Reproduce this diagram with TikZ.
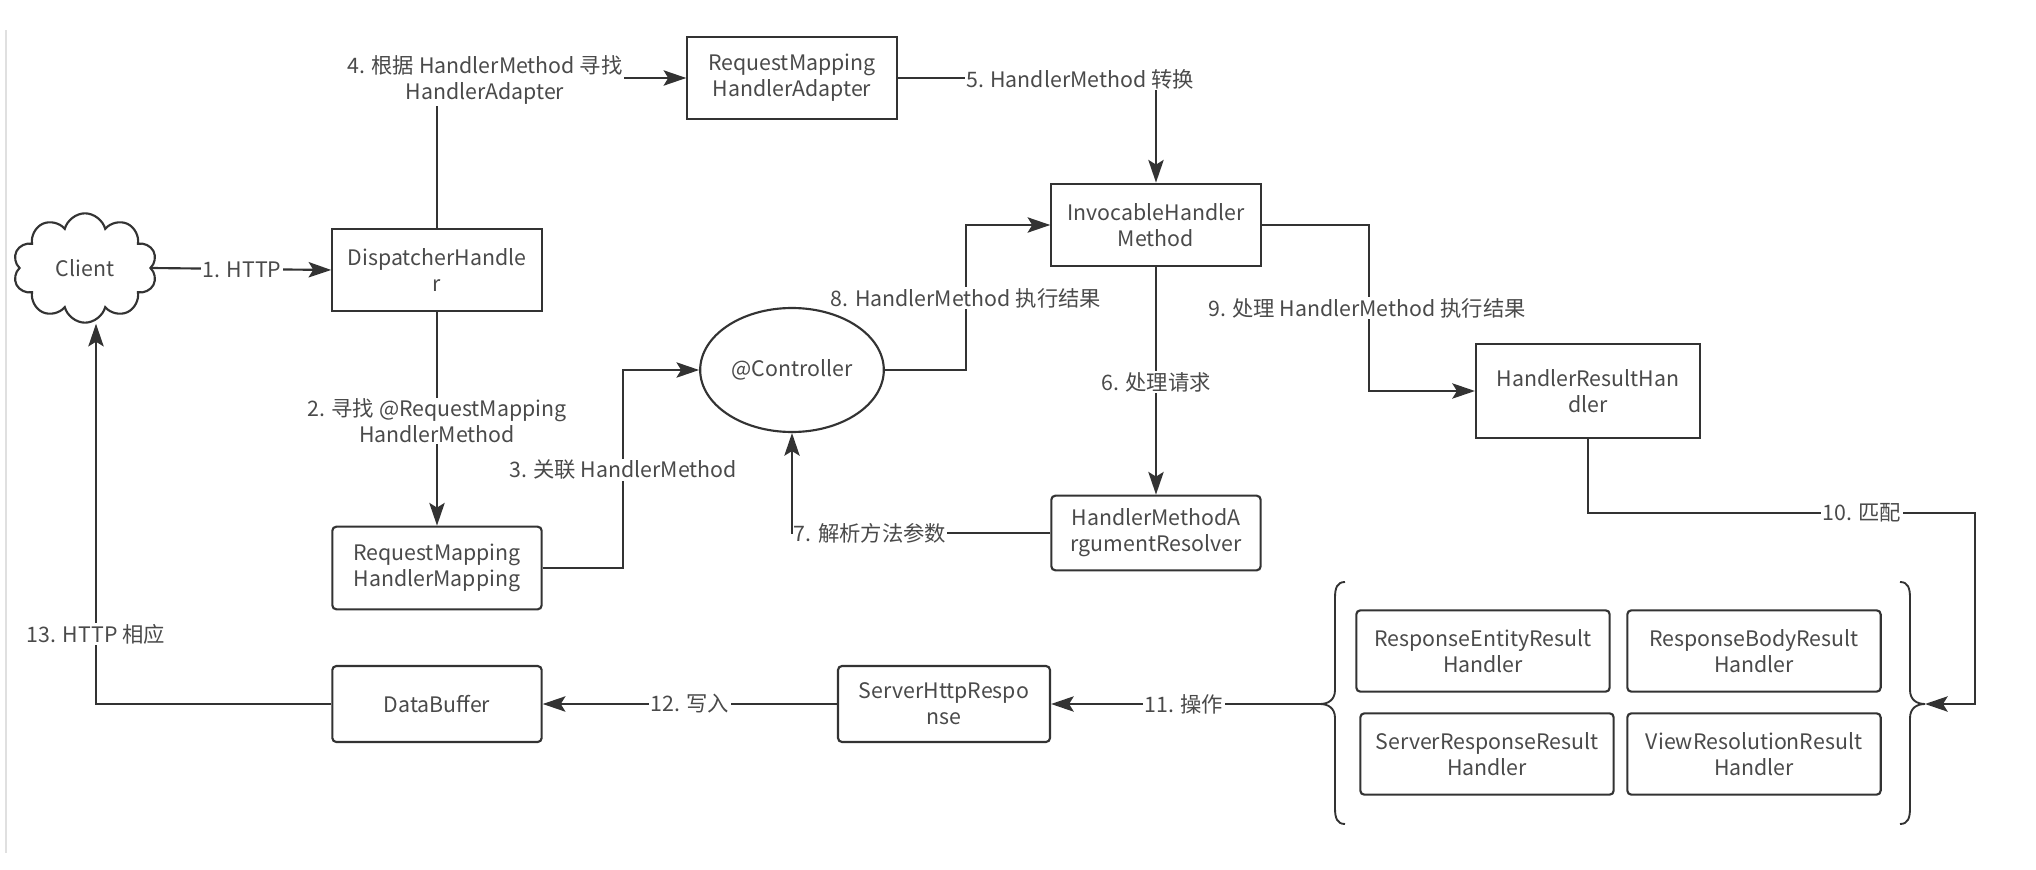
\documentclass[tikz,border=0pt]{standalone}
\usepackage{fontspec}
\setmainfont{Noto Sans CJK SC}
\usepackage{tikz}
\usepackage{xcolor}
\usetikzlibrary{arrows.meta,shapes,positioning}

\definecolor{linec}{HTML}{333333}
\definecolor{txtc}{HTML}{4A4A4A}

\begin{document}
\begin{tikzpicture}[x=0.75pt,y=0.75pt,yscale=-1,xscale=1,
  every node/.style={font=\fontsize{16}{19.5}\selectfont, text=txtc},
  box/.style={draw=linec, line width=1.6pt, fill=white, align=center, inner sep=2pt, minimum width=157pt, minimum height=61pt},
  rbox/.style={box, rounded corners=3pt},
  lbl/.style={fill=white, align=center, inner sep=1pt},
  wire/.style={draw=linec, line width=1.6pt},
  flow/.style={wire, -{Stealth[length=17pt,width=11.5pt,inset=3.5pt]}}]
\useasboundingbox (0,0) rectangle (2036,870);

%Straight Lines (page edge)
\draw [color=black!12, line width=1.2pt] (6,30) -- (6,853);

%Shape: Cloud
\node [cloud, draw=linec, line width=1.6pt, cloud puffs=10, aspect=1.3, minimum width=108pt, minimum height=82pt, inner sep=0pt] (cl) at (85,268) {Client};
%Shape: Rectangles
\node [box] (dh) at (437,270) {DispatcherHandle\\r};
\node [box, minimum height=62pt] (rmha) at (792,78) {RequestMapping\\HandlerAdapter};
\node [box, minimum height=62pt] (ihm) at (1156,225) {InvocableHandler\\Method};
\node [rbox, minimum height=62pt] (rmhm) at (437,568) {RequestMapping\\HandlerMapping};
\node [rbox, minimum height=56pt] (hmar) at (1156,533) {HandlerMethodA\\rgumentResolver};
\node [box, minimum width=168pt, minimum height=70pt] (hrh) at (1588,391) {HandlerResultHan\\dler};
\node [rbox, minimum width=159pt, minimum height=57pt] (shr) at (944,704) {ServerHttpRespo\\nse};
\node [rbox, minimum height=57pt] (db) at (437,704) {DataBuffer};
%Shape: Ellipse
\node [ellipse, draw=linec, line width=1.6pt, minimum width=132pt, minimum height=93pt] (ctrl) at (792,370) {@Controller};

%Shape: Result handlers
\node [rbox, minimum width=190pt] (reh) at (1483,651) {ResponseEntityResult\\Handler};
\node [rbox, minimum width=190pt] (rbh) at (1754,651) {ResponseBodyResult\\Handler};
\node [rbox, minimum width=190pt] (srrh) at (1487,754) {ServerResponseResult\\Handler};
\node [rbox, minimum width=190pt] (vrrh) at (1754,754) {ViewResolutionResult\\Handler};

%Braces
\coordinate (lb) at (1320,704);
\coordinate (rb) at (1925,704);
\draw [wire, line width=1.4pt] (1345,582) .. controls (1337,582) and (1335,588) .. (1335,598) -- (1335,690) .. controls (1335,700) and (1328,704) .. (lb) .. controls (1328,704) and (1335,708) .. (1335,718) -- (1335,808) .. controls (1335,818) and (1337,824) .. (1345,824);
\draw [wire, line width=1.4pt] (1900,582) .. controls (1908,582) and (1910,588) .. (1910,598) -- (1910,690) .. controls (1910,700) and (1917,704) .. (rb) .. controls (1917,704) and (1910,708) .. (1910,718) -- (1910,808) .. controls (1910,818) and (1908,824) .. (1900,824);

%Bend points
\coordinate (b3) at (623,370);
\coordinate (b8) at (966,300);
\coordinate (b9) at (1369,300);
\coordinate (b10) at (1975,513);
\coordinate (b13) at (96,704);

%Connectors
\draw [flow] (cl.east) -- (dh.west);
\draw [flow] (dh.south) -- (rmhm.north);
\draw [flow] (rmhm.east) -| (b3) -- (ctrl.west);
\draw [flow] (dh.north) |- (rmha.west);
\draw [flow] (rmha.east) -| (ihm.north);
\draw [flow] (ihm.south) -- (hmar.north);
\draw [flow] (hmar.west) -| (ctrl.south);
\draw [flow] (ctrl.east) -| (b8) |- (ihm.west);
\draw [flow] (ihm.east) -| (b9) |- (hrh.west);
\draw [flow] (hrh.south) |- (b10) |- (rb);
\draw [flow] (lb) -- (shr.east);
\draw [flow] (shr.west) -- (db.east);
\draw [flow] (db.west) -- (b13) -- (b13 |- cl.south);

% Text Nodes
\node [lbl] (l1) at (242,270) {1. HTTP};
\node [lbl] (l2) at (437,421) {2. 寻找 @RequestMapping\\HandlerMethod};
\node [lbl] (l3) at (623,470) {3. 关联 HandlerMethod};
\node [lbl] (l4) at (485,80) {4. 根据 HandlerMethod 寻找\\HandlerAdapter};
\node [lbl] (l5) at (1080,79) {5. HandlerMethod 转换};
\node [lbl] (l6) at (1156,382) {6. 处理请求};
\node [lbl] (l7) at (870,533) {7. 解析方法参数};
\node [lbl] (l8) at (966,298) {8. HandlerMethod 执行结果};
\node [lbl] (l9) at (1367,308) {9. 处理 HandlerMethod 执行结果};
\node [lbl] (l10) at (1862,513) {10. 匹配};
\node [lbl] (l11) at (1184,704) {11. 操作};
\node [lbl] (l12) at (690,704) {12. 写入};
\node [lbl] (l13) at (96,634) {13. HTTP 相应};

\end{tikzpicture}
\end{document}
